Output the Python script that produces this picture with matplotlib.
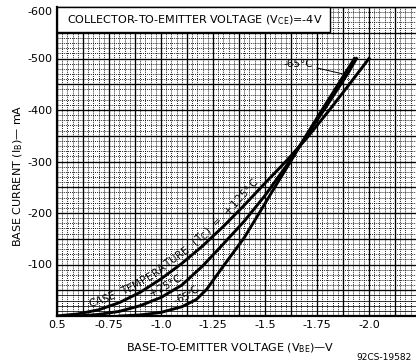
import matplotlib
matplotlib.use("Agg")
import matplotlib.pyplot as plt
from matplotlib.patches import Rectangle
from matplotlib.transforms import IdentityTransform
import numpy as np

# base-to-emitter voltage (V) and base current (mA) for each case temperature
vbe_125 = [-0.50, -0.60, -0.70, -0.80, -0.90, -1.00, -1.10, -1.20, -1.30, -1.40,
           -1.50, -1.60, -1.70, -1.80, -1.90, -2.00]
ib_125 = [0, -4, -12, -26, -46, -72, -102, -136, -174, -215,
          -258, -300, -345, -395, -447, -500]

vbe_25 = [-0.60, -0.70, -0.80, -0.90, -1.00, -1.10, -1.20, -1.30, -1.40, -1.50,
          -1.60, -1.70, -1.80, -1.90, -1.94]
ib_25 = [0, -3, -9, -20, -36, -60, -97, -140, -184, -234,
         -290, -350, -410, -472, -500]

vbe_m65 = [-0.80, -0.90, -1.00, -1.10, -1.17, -1.22, -1.30, -1.40, -1.48, -1.55,
           -1.62, -1.70, -1.78, -1.86, -1.93]
ib_m65 = [0, -2, -7, -18, -32, -52, -97, -152, -205, -252,
          -298, -352, -404, -455, -500]

xticks = [-0.5, -0.75, -1.0, -1.25, -1.5, -1.75, -2.0]
xticklabels = ["0.5", "-0.75", "-1.0", "-1.25", "-1.5", "-1.75", "-2.0"]
yticks = [-100, -200, -300, -400, -500, -600]
yticklabels = ["-100", "-200", "-300", "-400", "-500", "-600"]

xmin, xmax = -0.5, -2.226
ymin, ymax = 0, -600

fig = plt.figure(figsize=(4.16, 3.63), dpi=100)
ax = fig.add_axes([57 / 416, 47 / 363, 1 - 57 / 416, 309 / 363])
ax.set_xlim(xmin, xmax)
ax.set_ylim(ymin, ymax)


def label_along(pieces, vs, ib, v_start, offset, size=7.5):
    """Write text letter by letter along a curve, offset above it (pixels)."""
    fig.canvas.draw()
    r = fig.canvas.get_renderer()
    pts = ax.transData.transform(np.column_stack([vs, ib]))
    s = np.concatenate([[0], np.cumsum(np.hypot(*np.diff(pts, axis=0).T))])
    x0 = ax.transData.transform((v_start, 0))[0]
    pos = np.interp(x0, pts[:, 0], s)
    for txt, scale, dy in pieces:
        fs = size * scale
        for ch in txt:
            t = fig.text(0, 0, ch, fontsize=fs, ha="center", va="center",
                         rotation_mode="anchor", transform=IdentityTransform(),
                         zorder=6)
            w = t.get_window_extent(r).width if ch != " " else fs * 0.45
            mid = pos + w / 2
            p = np.array([np.interp(mid, s, pts[:, 0]), np.interp(mid, s, pts[:, 1])])
            a = np.array([np.interp(mid - 6, s, pts[:, 0]), np.interp(mid - 6, s, pts[:, 1])])
            b = np.array([np.interp(mid + 6, s, pts[:, 0]), np.interp(mid + 6, s, pts[:, 1])])
            d = (b - a) / np.hypot(*(b - a))
            nrm = np.array([-d[1], d[0]])
            p = p + nrm * (offset + dy)
            t.set_position(p)
            t.set_rotation(np.degrees(np.arctan2(d[1], d[0])))
            pos += w * 1.08


# graph paper: fine dotted rulings, heavier ones every 0.125 V / 50 mA
for v in np.arange(-0.5, xmax - 0.001, -0.025):
    ax.axvline(v, color="black", lw=0.6, ls=(0, (1.2, 1.3)), zorder=1)
for i in np.arange(0, -601, -10):
    if i > -50:
        ax.axhline(i, color="black", lw=0.55, zorder=1)
    else:
        ax.axhline(i, color="black", lw=0.6, ls=(0, (1.2, 1.3)), zorder=1)
for v in np.arange(-0.5, xmax - 0.001, -0.125):
    ax.axvline(v, color="black", lw=0.95, zorder=2)
for i in np.arange(0, -601, -50):
    ax.axhline(i, color="black", lw=0.95, zorder=2)

ax.plot(vbe_125, ib_125, color="black", lw=2.1, zorder=4)
ax.plot(vbe_25, ib_25, color="black", lw=2.1, zorder=4)
ax.plot(vbe_m65, ib_m65, color="black", lw=2.1, zorder=4)

ax.set_xticks(xticks)
ax.set_xticklabels(xticklabels)
ax.set_yticks(yticks)
ax.set_yticklabels(yticklabels)
ax.tick_params(length=0, labelsize=8, pad=3)
ax.get_yticklabels()[-1].set_va("top")

ax.spines["right"].set_visible(False)
for side in ["left", "bottom"]:
    ax.spines[side].set_linewidth(1.6)
ax.spines["top"].set_linewidth(1.0)

# heading box
ax.add_patch(Rectangle((-0.5, -551), -1.3125, -49, facecolor="white",
                       edgecolor="black", lw=1.0, zorder=5, clip_on=False))
ax.text(-1.163, -575, r"COLLECTOR-TO-EMITTER VOLTAGE (V$_{\mathrm{CE}}$)=-4V",
        fontsize=8, ha="center", va="center", zorder=6)

# curve labels
label_along([("CASE  TEMPERATURE  (T", 1, 0), ("C", 0.75, -2.5), (")  =  +125°C", 1, 0)],
            vbe_125, ib_125, -0.66, 8)
label_along([("+25°C", 1, 0)], vbe_25, ib_25, -0.96, 7.5)
label_along([("-65°C", 1, 0)], vbe_m65, ib_m65, -1.07, 7.5)
ax.annotate("-65°C", xy=(-1.875, -470), xytext=(-1.659, -490),
            fontsize=7.5, ha="center", va="center", zorder=6,
            arrowprops=dict(arrowstyle="-", color="black", lw=0.7,
                            shrinkA=1, shrinkB=0))

fig.text(230 / 416, 1 - 348 / 363, r"BASE-TO-EMITTER VOLTAGE (V$_{\mathrm{BE}}$)—V",
         fontsize=8, ha="center", va="center")
fig.text(18 / 416, 1 - 176 / 363, r"BASE CURRENT (I$_{\mathrm{B}}$)— mA",
         fontsize=8, ha="center", va="center", rotation=90)
fig.text(384 / 416, 1 - 357 / 363, "92CS-19582", fontsize=6.5, ha="center", va="center")

fig.savefig("out.png", dpi=100)
